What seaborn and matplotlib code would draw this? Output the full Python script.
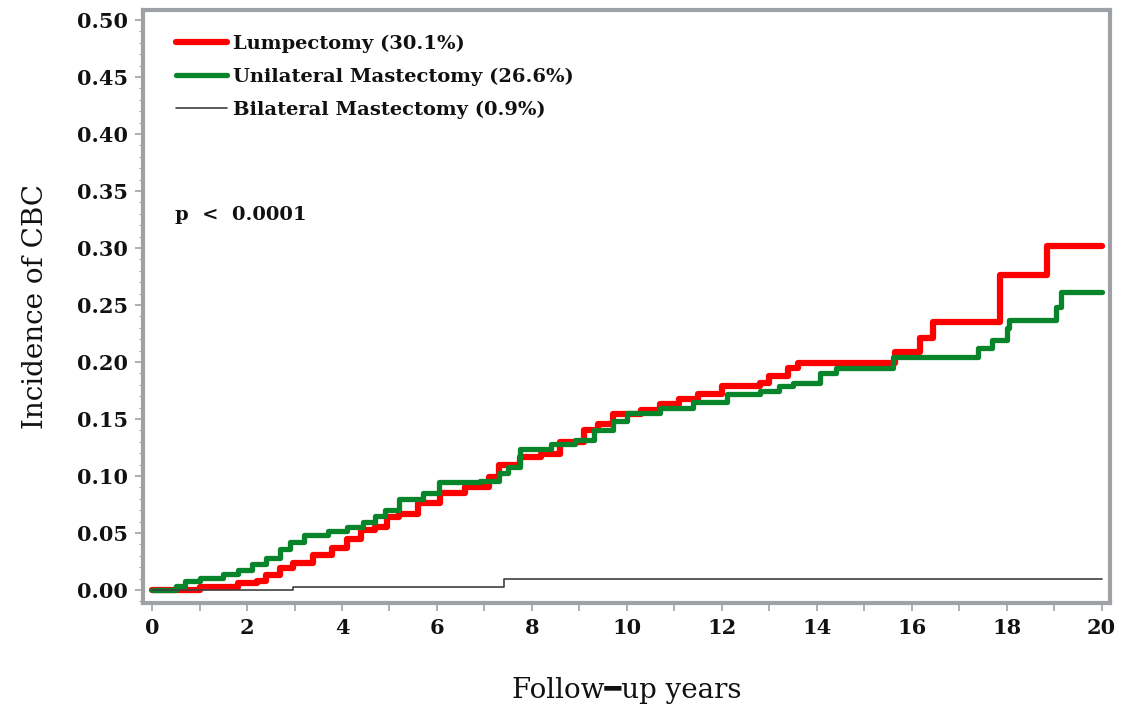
import numpy as np
import pandas as pd
import matplotlib
matplotlib.use("Agg")
import matplotlib.pyplot as plt
import seaborn as sns
from matplotlib.ticker import MultipleLocator

# ---- data ----
lump_years = [0.0, 1.0, 1.8, 2.2, 2.4, 2.7, 2.97, 3.4, 3.8, 4.1, 4.4, 4.7, 4.95, 5.2, 5.6,
              6.06, 6.6, 7.1, 7.3, 7.75, 8.2, 8.6, 9.1, 9.4, 9.7, 10.3, 10.7, 11.1, 11.5,
              12.0, 12.8, 13.0, 13.4, 13.6, 15.64, 16.17, 16.45, 17.85, 18.84, 20.0]
lump_inc = [0.0, 0.003, 0.006, 0.008, 0.013, 0.019, 0.024, 0.031, 0.037, 0.045, 0.053, 0.055,
            0.064, 0.067, 0.076, 0.085, 0.090, 0.099, 0.110, 0.117, 0.119, 0.130, 0.140, 0.146,
            0.154, 0.158, 0.163, 0.168, 0.172, 0.179, 0.182, 0.188, 0.195, 0.199, 0.209, 0.221,
            0.235, 0.276, 0.302, 0.302]

uni_years = [0.0, 0.5, 0.7, 1.0, 1.5, 1.8, 2.1, 2.4, 2.7, 2.9, 3.2, 3.7, 4.1, 4.45, 4.7, 4.9,
             5.2, 5.7, 6.05, 6.9, 7.3, 7.5, 7.75, 8.4, 8.9, 9.3, 9.7, 10.0, 10.7, 11.4, 12.1,
             12.8, 13.2, 13.5, 14.06, 14.4, 15.6, 17.4, 17.7, 18.0, 18.06, 19.05, 19.15, 20.0]
uni_inc = [0.0, 0.004, 0.008, 0.011, 0.014, 0.018, 0.023, 0.028, 0.036, 0.042, 0.048, 0.052,
           0.055, 0.060, 0.065, 0.070, 0.080, 0.085, 0.095, 0.096, 0.103, 0.108, 0.124, 0.128,
           0.132, 0.140, 0.148, 0.155, 0.160, 0.165, 0.172, 0.175, 0.179, 0.182, 0.190, 0.195,
           0.204, 0.212, 0.219, 0.230, 0.237, 0.248, 0.261, 0.261]

bi_years = [0.0, 2.97, 7.42, 20.0]
bi_inc = [0.0, 0.003, 0.0095, 0.0095]

labels = ["Lumpectomy (30.1%)", "Unilateral Mastectomy (26.6%)", "Bilateral Mastectomy (0.9%)"]
x_ticks = [0, 2, 4, 6, 8, 10, 12, 14, 16, 18, 20]
y_ticks = [0.00, 0.05, 0.10, 0.15, 0.20, 0.25, 0.30, 0.35, 0.40, 0.45, 0.50]

sns.set_style("white")
plt.rcParams["font.family"] = ["DejaVu Serif"]

fig = plt.figure(figsize=(11.22, 7.12), dpi=100)
ax = fig.add_axes([0.1275, 0.153, 0.8615, 0.833])

series = [
    (lump_years, lump_inc, labels[0], "#ff0000", 4.5),
    (uni_years, uni_inc, labels[1], "#08852a", 3.8),
    (bi_years, bi_inc, labels[2], "#404040", 1.2),
]
for xs, ys, lab, col, lw in series:
    df = pd.DataFrame({"year": xs, "inc": ys})
    sns.lineplot(data=df, x="year", y="inc", ax=ax, color=col, linewidth=lw,
                 drawstyle="steps-post", estimator=None, label=lab, sort=False)

ax.set_xlim(-0.19, 20.17)
ax.set_ylim(-0.0114, 0.5088)
ax.set_xticks(x_ticks)
ax.set_xticklabels([str(t) for t in x_ticks])
ax.set_yticks(y_ticks)
ax.set_yticklabels([f"{t:.2f}" for t in y_ticks])
ax.xaxis.set_minor_locator(MultipleLocator(1))
ax.yaxis.set_minor_locator(MultipleLocator(0.01))

spine_col = "#9ea2a7"
for s in ax.spines.values():
    s.set_visible(True)
    s.set_color(spine_col)
    s.set_linewidth(3.0)

ax.tick_params(axis="both", which="major", direction="out", length=6, width=1.2,
               color=spine_col, labelsize=15, pad=5, bottom=True, left=True)
ax.tick_params(axis="x", which="minor", direction="out", length=6, width=1.2,
               color=spine_col, bottom=True)
ax.tick_params(axis="y", which="minor", direction="out", length=3, width=0.8,
               color=spine_col, left=True)
for lbl in ax.get_xticklabels() + ax.get_yticklabels():
    lbl.set_fontweight("bold")
    lbl.set_color("#111111")

ax.set_xlabel("Follow\u2501up years", fontsize=20, labelpad=28, color="#111111")
ax.set_ylabel("Incidence of CBC", fontsize=20, labelpad=20, color="#111111")

leg = ax.legend(loc="upper left", bbox_to_anchor=(0.016, 0.988), frameon=False,
                handlelength=2.6, handletextpad=0.35, labelspacing=0.75,
                prop={"family": "DejaVu Serif", "weight": "bold", "size": 14})
for t in leg.get_texts():
    t.set_color("#111111")

ax.text(0.033, 0.654, "p  <  0.0001", transform=ax.transAxes, fontsize=14,
        fontweight="bold", ha="left", va="center", color="#111111")

fig.savefig("out.png", dpi=100)
